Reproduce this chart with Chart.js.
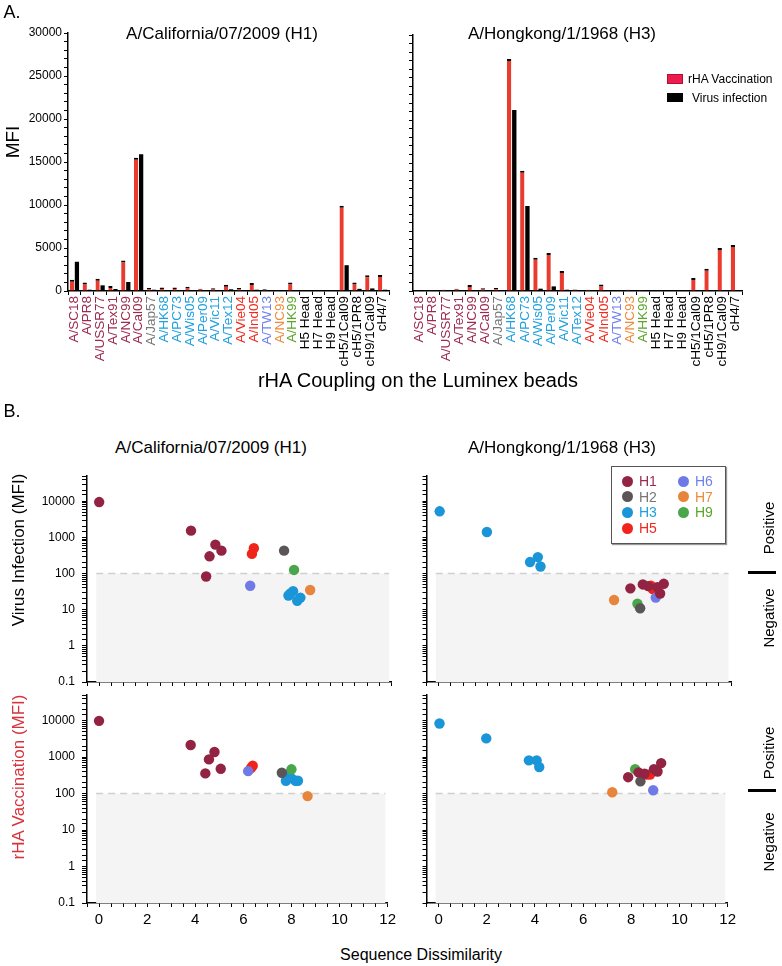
<!DOCTYPE html>
<html><head><meta charset="utf-8">
<script src="https://cdn.jsdelivr.net/npm/chart.js@4.4.1/dist/chart.umd.min.js"></script>
<style>
body{margin:0;background:#fff;}
#root{position:relative;width:782px;height:966px;overflow:hidden;font-family:'Liberation Sans',Arial,sans-serif;color:#000;}
.t{position:absolute;white-space:nowrap;transform:translate(-50%,-50%);line-height:1;}
.r{position:absolute;white-space:nowrap;transform:translate(-50%,-50%) rotate(-90deg);line-height:1;}
canvas{position:absolute;}
.sw{position:absolute;}
.dot{position:absolute;width:11px;height:11px;border-radius:50%;}
.lt{position:absolute;font-size:14px;line-height:1;transform:translateY(-50%);}
</style></head><body><div id="root">
<canvas id="barL" width="400" height="380" style="left:0;top:0;width:400px;height:380px"></canvas>
<canvas id="barR" width="392" height="380" style="left:390px;top:0;width:392px;height:380px"></canvas>
<canvas id="scTL" width="360" height="240" style="left:40px;top:460px;width:360px;height:240px"></canvas>
<canvas id="scTR" width="360" height="240" style="left:380px;top:460px;width:360px;height:240px"></canvas>
<canvas id="scBL" width="360" height="260" style="left:40px;top:680px;width:360px;height:260px"></canvas>
<canvas id="scBR" width="360" height="260" style="left:380px;top:680px;width:360px;height:260px"></canvas>

<div class="t" style="left:12px;top:12px;font-size:18px">A.</div>
<div class="t" style="left:12px;top:411px;font-size:18px">B.</div>
<div class="t" style="left:222px;top:33px;font-size:17px">A/California/07/2009 (H1)</div>
<div class="t" style="left:562px;top:33px;font-size:17px">A/Hongkong/1/1968 (H3)</div>
<div class="r" style="left:12px;top:142px;font-size:19px">MFI</div>
<div class="t" style="left:418px;top:380px;font-size:20px">rHA Coupling on the Luminex beads</div>

<div class="sw" style="left:667px;top:74px;width:16px;height:10px;background:#ee1c4e;border:1px solid #b0103a;box-sizing:border-box"></div>
<div class="lt" style="left:688px;top:79px;font-size:12px">rHA Vaccination</div>
<div class="sw" style="left:667px;top:93px;width:16px;height:9px;background:#000"></div>
<div class="lt" style="left:692px;top:97.5px;font-size:12px">Virus infection</div>

<div class="t" style="left:211px;top:447px;font-size:17px">A/California/07/2009 (H1)</div>
<div class="t" style="left:562px;top:447px;font-size:17px">A/Hongkong/1/1968 (H3)</div>
<div class="r" style="left:18px;top:550px;font-size:17px">Virus Infection (MFI)</div>
<div class="r" style="left:18px;top:777px;font-size:17px;color:#d8323c">rHA Vaccination (MFI)</div>
<div class="t" style="left:421px;top:955px;font-size:16px">Sequence Dissimilarity</div>

<div class="r" style="left:768px;top:528px;font-size:15px">Positive</div>
<div class="r" style="left:768px;top:618px;font-size:15px">Negative</div>
<div class="sw" style="left:748px;top:571px;width:28px;height:3px;background:#000"></div>
<div class="r" style="left:768px;top:753px;font-size:15px">Positive</div>
<div class="r" style="left:768px;top:842px;font-size:15px">Negative</div>
<div class="sw" style="left:748px;top:789px;width:28px;height:3px;background:#000"></div>

<div id="leg" style="position:absolute;left:611px;top:466px;width:113px;height:76px;border:1px solid #555;box-shadow:1px 1px 1px #999;background:#fff"></div>
</div>
<script>
// ---------- Bar chart data ----------
const barLabels = ['A/SC18','A/PR8','A/USSR77','A/Tex91','A/NC99','A/Cal09','A/Jap57','A/HK68','A/PC73','A/Wis05','A/Per09','A/Vic11','A/Tex12','A/Vie04','A/Ind05','A/TW13','A/NC93','A/HK99','H5 Head','H7 Head','H9 Head','cH5/1Cal09','cH5/1PR8','cH9/1Cal09','cH4/7'];
const barLabelSubtype = ['H1','H1','H1','H1','H1','H1','H2','H3','H3','H3','H3','H3','H3','H5','H5','H6','H7','H9','','','','','','',''];
const cal09Vaccination = [1300,1000,1430,580,3560,15500,350,420,420,500,270,310,730,350,930,200,100,1000,0,0,0,9900,1000,1820,1850];
const cal09Infection   = [3400,150,660,230,1050,15900,150,80,30,20,20,30,200,20,150,60,20,100,0,0,100,3000,250,300,150];
const hk68Vaccination  = [50,100,150,270,700,310,350,27200,14100,3900,4460,2330,190,150,775,60,150,120,0,0,0,1510,2600,5040,5390];
const hk68Infection    = [0,50,50,30,30,30,30,21200,9960,270,540,150,0,0,30,80,0,0,0,0,0,0,30,0,30];
const barYMax = 30000;
const barYLabelStep = 5000;

// ---------- Scatter data (x = sequence dissimilarity, y = MFI) ----------
const calInfectionX    = [0,3.77,4.77,5.02,4.53,4.39, 6.35,6.27, 7.59, 8.0, 6.2, 7.77,7.96,8.13,8.26,7.85, 8.66];
const calInfectionY    = [9500,1540,630,430,300,83, 500,350, 430, 126, 46, 24.7,32.6,17.6,21.6,28, 35];
const calInfectionType = ['H1','H1','H1','H1','H1','H1','H5','H5','H2','H9','H6','H3','H3','H3','H3','H3','H7'];

const hkInfectionX    = [0.04,1.98,3.75,4.07,4.18, 7.87,8.38,9.24,9.09,8.98,8.6, 8.71,8.79, 8.91, 7.2, 8.16, 8.27];
const hkInfectionY    = [5270,1410,208,285,157, 39,50,52,28,42,45, 46,37, 21.6, 18.5, 14.6, 11];
const hkInfectionType = ['H3','H3','H3','H3','H3','H1','H1','H1','H1','H1','H1','H5','H5','H6','H7','H9','H2'];

const calVaccinationX    = [0,3.81,4.8,4.57,5.06,4.42, 6.39,6.32, 6.2, 7.6, 8.0, 7.77,7.85,8.0,8.17,8.27, 8.67];
const calVaccinationY    = [9800,2140,1370,860,475,355, 575,500, 410, 370, 460, 223,320,260,223,223, 85];
const calVaccinationType = ['H1','H1','H1','H1','H1','H1','H5','H5','H6','H2','H9','H3','H3','H3','H3','H3','H7'];

const hkVaccinationX    = [0.04,1.98,3.75,4.07,4.18, 7.87,8.3,8.94,9.09,9.24,8.55, 8.16, 8.64,8.78, 8.38, 8.91, 7.21];
const hkVaccinationY    = [8300,3230,810,810,530, 280,380,465,400,680,350, 465, 330,330, 215, 123, 108];
const hkVaccinationType = ['H3','H3','H3','H3','H3','H1','H1','H1','H1','H1','H1','H9','H5','H5','H2','H6','H7'];

const scatterYLabels = ['0.1','1','10','100','1000','10000'];
const scatterXLabels = [0,2,4,6,8,10,12];
const positiveThreshold = 100;
const legendSubtypes = ['H1','H2','H3','H5','H6','H7','H9'];

// ---------- Styles ----------
const BAR_RED = '#ea3b2f';
const labelColors = {H1:'#9c2a4e',H2:'#777777',H3:'#1fa0e0',H5:'#f0281e',H6:'#6f80ee',H7:'#ee8a3a',H9:'#5aa62a','':'#000'};
const pointColors = {H1:'#922342',H2:'#5b5557',H3:'#1a95d8',H5:'#f0241a',H6:'#6f7ae6',H7:'#e8853c',H9:'#4aa64a'};
const drawOrder = ['H1','H2','H9','H3','H7','H6','H5'];

Chart.defaults.font.family = "'Liberation Sans', Arial, sans-serif";
Chart.defaults.color = '#000';

function barChart(id, vac, inf, yWidth, padTop, padRight, showY) {
  new Chart(document.getElementById(id), {
    type: 'bar',
    data: {
      labels: barLabels,
      datasets: [
        {label:'rHA Vaccination', data: vac, backgroundColor: BAR_RED, borderColor:'#000', borderWidth:{top:2,left:0,right:0,bottom:0}, barPercentage:0.85, categoryPercentage:0.78},
        {label:'Virus infection', data: inf, backgroundColor: '#000', borderWidth:0, barPercentage:0.85, categoryPercentage:0.78}
      ]
    },
    options: {
      responsive:false, animation:false, devicePixelRatio:1,
      layout:{padding:{top:padTop,right:padRight,left:0,bottom:0}, autoPadding:false},
      plugins:{legend:{display:false}, tooltip:{enabled:false}},
      scales:{
        x:{
          grid:{drawOnChartArea:false, tickLength:4, color:'#000', offset:true},
          border:{color:'#000', width:1.5},
          ticks:{autoSkip:false, minRotation:90, maxRotation:90, padding:1, font:{size:13.5},
                 color: barLabelSubtype.map(s => labelColors[s])},
          afterFit: s => { s.height = 89; }
        },
        y:{
          min:0, max:barYMax,
          grid:{drawOnChartArea:false, tickLength:4, color:'#000'},
          border:{color:'#000', width:1.5},
          ticks:{stepSize:1000, autoSkip:false, padding:2, font:{size:12},
                 callback: v => (showY && v % barYLabelStep === 0) ? String(v) : ''},
          afterFit: s => { s.width = yWidth; }
        }
      }
    }
  });
}
barChart('barL', cal09Vaccination, cal09Infection, 68, 33, 7, true);
barChart('barR', hk68Vaccination, hk68Infection, 23, 35, 40, false);

const shadePlugin = {
  id:'shade',
  beforeDatasetsDraw(chart, args, o) {
    const {ctx, scales:{x, y}} = chart;
    const x0 = x.getPixelForValue(o.x0), x1 = x.getPixelForValue(o.x1);
    const yTop = y.getPixelForValue(o.threshold), yBot = y.getPixelForValue(y.min);
    ctx.save();
    ctx.fillStyle = '#f4f4f4';
    ctx.fillRect(x0, yTop, x1 - x0, yBot - yTop);
    ctx.strokeStyle = '#cfcfcf'; ctx.lineWidth = 1.5; ctx.setLineDash([7,5]);
    ctx.beginPath(); ctx.moveTo(x0, yTop); ctx.lineTo(x1, yTop); ctx.stroke();
    ctx.restore();
  }
};

function isDecade(v) { const l = Math.log10(v); return Math.abs(l - Math.round(l)) < 1e-6; }

function scatterChart(id, xs, ys, types, opt) {
  const datasets = drawOrder.map(g => ({
    label: g,
    data: xs.map((x, i) => ({x, y: ys[i], t: types[i]})).filter(p => p.t === g),
    backgroundColor: pointColors[g], borderWidth:0, pointRadius:5.2, pointHoverRadius:5.2
  })).filter(d => d.data.length);
  new Chart(document.getElementById(id), {
    type:'scatter',
    data:{datasets},
    options:{
      responsive:false, animation:false, devicePixelRatio:1,
      layout:{padding:{top:opt.top,right:opt.right,left:0,bottom:0}, autoPadding:false},
      plugins:{legend:{display:false}, tooltip:{enabled:false}, shade:{x0:-0.12, x1:11.9, threshold:positiveThreshold}},
      scales:{
        x:{
          type:'linear', min:-0.5, max:12,
          grid:{drawOnChartArea:false, tickLength:4, color:'#000'},
          border:{color:'#000', width:1.5},
          ticks:{stepSize:0.5, autoSkip:false, maxRotation:0, padding:4, font:{size:15},
                 callback: v => (opt.xLabels && scatterXLabels.includes(v)) ? String(v) : ''},
          afterFit: s => { s.height = opt.xh; }
        },
        y:{
          type:'logarithmic', min:0.1, max:50000,
          grid:{drawOnChartArea:false, tickLength:opt.yLabels ? 5 : 4, color:'#000'},
          border:{color:'#000', width:1.5},
          ticks:{autoSkip:false, padding:7, font:{size:12},
                 callback: v => {
                   if (!opt.yLabels || !isDecade(v)) return '';
                   const s = v >= 1 ? String(Math.round(v)) : String(Math.round(v*10)/10);
                   return scatterYLabels.includes(s) ? s : '';
                 }},
          afterFit: s => { s.width = opt.yw; }
        }
      }
    },
    plugins:[shadePlugin]
  });
}
scatterChart('scTL', calInfectionX, calInfectionY, calInfectionType, {top:16, right:8.5, xh:18, yw:47, yLabels:true, xLabels:false});
scatterChart('scTR', hkInfectionX, hkInfectionY, hkInfectionType, {top:16, right:9, xh:18, yw:46.5, yLabels:false, xLabels:false});
scatterChart('scBL', calVaccinationX, calVaccinationY, calVaccinationType, {top:15, right:8.5, xh:37, yw:47, yLabels:true, xLabels:true});
scatterChart('scBR', hkVaccinationX, hkVaccinationY, hkVaccinationType, {top:15, right:9, xh:37, yw:46.5, yLabels:false, xLabels:true});

// ---------- Legend for subtypes ----------
const leg = document.getElementById('leg');
const legPos = {H1:[0,0],H2:[0,1],H3:[0,2],H5:[0,3],H6:[1,0],H7:[1,1],H9:[1,2]};
legendSubtypes.forEach(g => {
  const [c, r] = legPos[g];
  const cx = 10 + c*56, cy = 14 + r*15.7;
  const d = document.createElement('div');
  d.className = 'dot'; d.style.left = (cx) + 'px'; d.style.top = (cy - 5.5) + 'px'; d.style.background = pointColors[g];
  leg.appendChild(d);
  const t = document.createElement('div');
  t.className = 'lt'; t.style.left = (cx + 17) + 'px'; t.style.top = cy + 'px'; t.style.color = labelColors[g]; t.textContent = g;
  leg.appendChild(t);
});
</script>
</body></html>
